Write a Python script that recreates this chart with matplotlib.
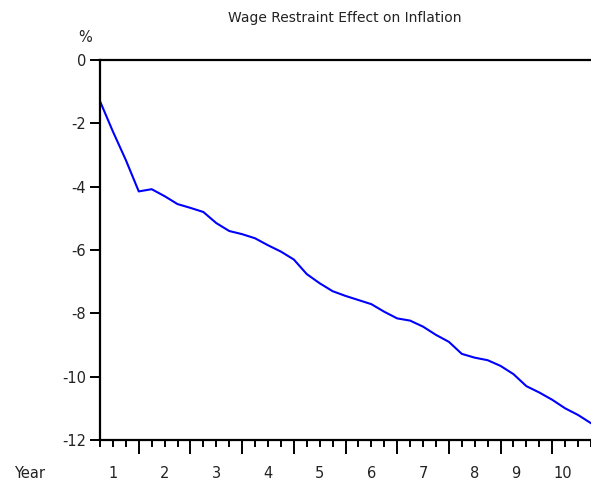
import matplotlib
matplotlib.use("Agg")
import matplotlib.pyplot as plt
import matplotlib.transforms as mtransforms
import numpy as np

# quarterly effect of wage restraint on inflation (%), starting Q2 of year 1
quarter_x = [0.25 + 0.25 * k for k in range(39)]
inflation_effect = [
    -1.30, -2.26, -3.16, -4.15, -4.08, -4.30, -4.55, -4.67, -4.80, -5.15,
    -5.40, -5.50, -5.63, -5.85, -6.05, -6.30, -6.76, -7.05, -7.30, -7.45,
    -7.58, -7.71, -7.95, -8.16, -8.23, -8.42, -8.68, -8.90, -9.28, -9.40,
    -9.48, -9.66, -9.92, -10.30, -10.50, -10.73, -11.00, -11.21, -11.47,
]
year_labels = ["1", "2", "3", "4", "5", "6", "7", "8", "9", "10"]
year_label_x = [0.5, 1.5, 2.5, 3.5, 4.5, 5.5, 6.5, 7.5, 8.3, 9.2]
y_ticks = [0, -2, -4, -6, -8, -10, -12]

text_color = "#222222"
plt.rcParams["font.family"] = ["DejaVu Sans"]

fig = plt.figure(figsize=(5.91, 4.92), dpi=100)
ax = fig.add_axes([100 / 591, 1 - 440 / 492, 491 / 591, 380 / 492])

ax.plot(quarter_x, inflation_effect, color="#0000FF", lw=1.5, solid_joinstyle="round")

ax.set_xlim(0.25, 9.75)
ax.set_ylim(-12, 0)

for side in ["left", "top", "bottom"]:
    ax.spines[side].set_linewidth(1.6)
    ax.spines[side].set_color("black")
ax.spines["right"].set_visible(False)

ax.set_yticks(y_ticks)
ax.set_yticklabels([str(v) for v in y_ticks])
ax.tick_params(axis="y", direction="out", length=7, width=1.4, pad=3,
               labelsize=10.5, labelcolor=text_color)

ax.set_xticks(np.arange(1, 10))
ax.set_xticks(np.arange(0.25, 9.76, 0.25), minor=True)
ax.set_xticklabels([])
ax.tick_params(axis="x", which="major", direction="out", length=10, width=1.4)
ax.tick_params(axis="x", which="minor", direction="out", length=5, width=1.4)

trans = mtransforms.blended_transform_factory(ax.transData, ax.transAxes)
for xv, lab in zip(year_label_x, year_labels):
    ax.text(xv, -34 / 380, lab, transform=trans, ha="center", va="center",
            fontsize=10.5, color=text_color, clip_on=False)

fig.text(30 / 591, 1 - 474 / 492, "Year", ha="center", va="center",
         fontsize=10.5, color=text_color)
fig.text(85 / 591, 1 - 37 / 492, "%", ha="center", va="center",
         fontsize=10.5, color=text_color)
fig.text(345 / 591, 1 - 18 / 492, "Wage Restraint Effect on Inflation",
         ha="center", va="center", fontsize=10, color=text_color)

fig.savefig("out.png", dpi=100)
